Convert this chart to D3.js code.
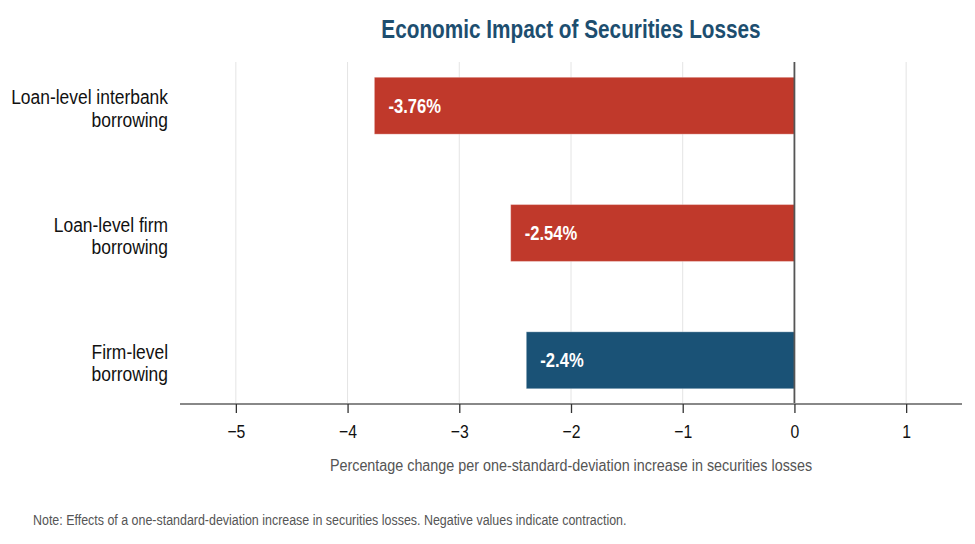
<!DOCTYPE html>
<html>
<head>
<meta charset="utf-8">
<script src="https://cdn.jsdelivr.net/npm/d3@7"></script>
<style>
  html, body { margin: 0; padding: 0; background: #fff; }
  svg { display: block; font-family: "Liberation Sans Narrow", "Arial Narrow", "Liberation Sans", Arial, sans-serif; }
</style>
</head>
<body>
<svg id="chart" width="975" height="544"></svg>
<script>
const categories = [
  ["Loan-level interbank", "borrowing"],
  ["Loan-level firm", "borrowing"],
  ["Firm-level", "borrowing"]
];
const values = [-3.76, -2.54, -2.4];
const valueLabels = ["-3.76%", "-2.54%", "-2.4%"];
const barColors = ["#C0392B", "#C0392B", "#1A5276"];
const xTicks = [-5, -4, -3, -2, -1, 0, 1];
const titleText = "Economic Impact of Securities Losses";
const xAxisTitle = "Percentage change per one-standard-deviation increase in securities losses";
const noteText = "Note: Effects of a one-standard-deviation increase in securities losses. Negative values indicate contraction.";

const NARROW = 0.83; // emulate a narrow sans face
const svg = d3.select("#chart");
const mLeft = 180, mRight = 962, mTop = 62, mBottom = 404;

const x = d3.scaleLinear().domain([-5.5, 1.5]).range([mLeft, mRight]);
const y = d3.scaleBand().domain(d3.range(categories.length)).range([mTop, mBottom])
  .paddingInner(0.553).paddingOuter(0.12);

function narrowText(parent, px, py, anchor) {
  return parent.append("text")
    .attr("transform", `translate(${px},${py}) scale(${NARROW},1)`)
    .attr("text-anchor", anchor || "start");
}

// gridlines
svg.append("g").selectAll("line").data(xTicks).join("line")
  .attr("x1", d => x(d)).attr("x2", d => x(d))
  .attr("y1", mTop).attr("y2", mBottom)
  .attr("stroke", "#e4e4e4").attr("stroke-width", 1);

// bars
svg.append("g").selectAll("rect").data(values).join("rect")
  .attr("x", d => x(Math.min(0, d)))
  .attr("width", d => Math.abs(x(d) - x(0)))
  .attr("y", (d, i) => y(i))
  .attr("height", y.bandwidth())
  .attr("fill", (d, i) => barColors[i])
  .attr("stroke", "rgba(255,255,255,0.3)")
  .attr("stroke-width", 1);

// value labels
values.forEach((d, i) => {
  narrowText(svg, x(Math.min(0, d)) + 14, y(i) + y.bandwidth() / 2 + 7)
    .attr("fill", "#fff")
    .attr("font-weight", "bold")
    .attr("font-size", 20)
    .text(valueLabels[i]);
});

// zero line
svg.append("line")
  .attr("x1", x(0)).attr("x2", x(0))
  .attr("y1", mTop).attr("y2", mBottom)
  .attr("stroke", "#555").attr("stroke-width", 1.8);

// x axis
const xAxis = d3.axisBottom(x).tickValues(xTicks).tickSize(9).tickPadding(12)
  .tickFormat(d => d3.format("")(d).replace("-", "\u2212"));
const gx = svg.append("g").attr("transform", `translate(0,${mBottom})`).call(xAxis);
gx.select(".domain").attr("stroke", "#888").attr("stroke-width", 1.8)
  .attr("d", `M${mLeft},0H${mRight}`);
gx.selectAll(".tick line").attr("stroke", "#333").attr("stroke-width", 1.3);
gx.selectAll(".tick text").attr("fill", "#111").attr("font-size", 19)
  .attr("transform", `scale(${NARROW},1)`)
  .attr("font-family", "\"Liberation Sans Narrow\", \"Arial Narrow\", \"Liberation Sans\", Arial, sans-serif");

// category labels
categories.forEach((lines, i) => {
  const t = narrowText(svg, 168, y(i) + y.bandwidth() / 2, "end")
    .attr("font-size", 21)
    .attr("fill", "#111");
  t.selectAll("tspan").data(lines).join("tspan")
    .attr("x", 0)
    .attr("y", (d, j) => j === 0 ? -1.5 : 21)
    .text(d => d);
});

// title
narrowText(svg, (mLeft + mRight) / 2, 37.5, "middle")
  .attr("font-size", 25).attr("font-weight", "bold")
  .attr("fill", "#1D4E6F")
  .text(titleText);

// axis title
narrowText(svg, (mLeft + mRight) / 2, 470.5, "middle")
  .attr("font-size", 17.3).attr("fill", "#555")
  .text(xAxisTitle);

// note
narrowText(svg, 33, 524.5, "start")
  .attr("font-size", 15).attr("fill", "#555")
  .text(noteText);
</script>
</body>
</html>
